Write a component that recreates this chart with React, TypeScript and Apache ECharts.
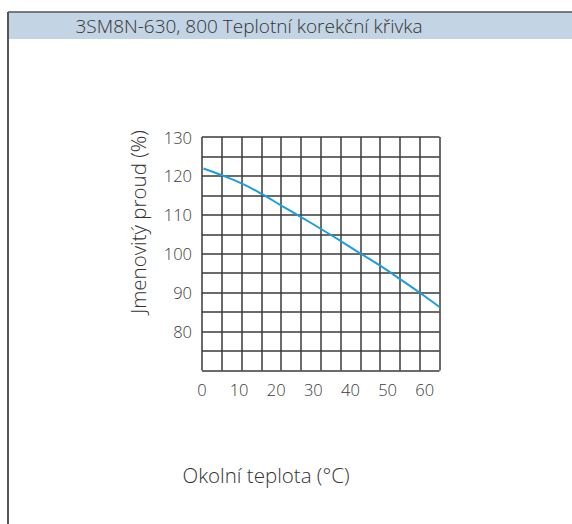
import React, { useEffect, useRef } from "react";
import * as echarts from "echarts";

const title = "3SM8N-630, 800 Teplotní korekční křivka";
const yAxisName = "Jmenovitý proud (%)";
const xAxisName = "Okolní teplota (°C)";
const temperature = [0.4, 5.5, 10.8, 16.2, 21.5, 26.9, 32.2, 37.5, 42.8, 48.2, 53.5, 58.8, 64];
const ratedCurrent = [121.9, 120.1, 118.0, 115.3, 112.3, 109.3, 106.3, 103.2, 100.0, 96.8, 93.4, 89.9, 86.3];
const yLabels = [80, 90, 100, 110, 120, 130];
const xLabels = [0, 10, 20, 30, 40, 50, 60];

const FONT = "'Open Sans', 'Noto Sans', sans-serif";

export default function App() {
  const ref = useRef<HTMLDivElement>(null);
  useEffect(() => {
    document.body.style.margin = "0";
    const chart = echarts.init(ref.current!, null, { renderer: "svg" });
    chart.setOption({
      animation: false,
      backgroundColor: "#ffffff",
      grid: { left: 202, top: 137, right: 132.5, bottom: 153.5, containLabel: false },
      xAxis: [
        {
          type: "value",
          min: 0,
          max: 64,
          interval: 10,
          axisLine: { show: false },
          axisTick: { show: false },
          splitLine: { show: false },
          axisLabel: {
            margin: 10,
            fontSize: 16.5,
            fontWeight: 300,
            color: "#3a3a3a",
            fontFamily: FONT,
            formatter: (v: number) => (xLabels.includes(v) ? String(v) : ""),
            showMaxLabel: false,
          },
        },
        {
          type: "value",
          min: 0,
          max: 12,
          interval: 1,
          position: "bottom",
          axisLine: { show: false },
          axisTick: { show: false },
          axisLabel: { show: false },
          splitLine: { show: true, lineStyle: { color: "#3a3a3a", width: 1.5 } },
        },
      ],
      yAxis: {
        type: "value",
        min: 70,
        max: 130,
        interval: 5,
        axisLine: { show: false },
        axisTick: { show: false },
        splitLine: { show: true, lineStyle: { color: "#3a3a3a", width: 1.5 } },
        axisLabel: {
          margin: 10,
          fontSize: 16.5,
          fontWeight: 300,
          color: "#3a3a3a",
          fontFamily: FONT,
          formatter: (v: number) => (yLabels.includes(v) ? String(v) : ""),
        },
      },
      series: [
        {
          type: "line",
          xAxisIndex: 0,
          data: temperature.map((t, i) => [t, ratedCurrent[i]]),
          smooth: true,
          showSymbol: false,
          lineStyle: { color: "#1a9fdc", width: 2 },
        },
      ],
      graphic: [
        { type: "rect", shape: { x: 8, y: 12, width: 564, height: 27 }, style: { fill: "#c3d4e4" }, z: -1 },
        { type: "line", shape: { x1: 8, y1: 12, x2: 572, y2: 12 }, style: { stroke: "#555", lineWidth: 1.5 } },
        { type: "line", shape: { x1: 8, y1: 12, x2: 8, y2: 524 }, style: { stroke: "#555", lineWidth: 2 } },
        {
          type: "text",
          x: 249,
          y: 26,
          style: { text: title, fontSize: 19, fontWeight: 300, fontFamily: FONT, fill: "#333", textAlign: "center", textVerticalAlign: "middle" },
        },
        {
          type: "text",
          x: 137.5,
          y: 222,
          rotation: Math.PI / 2,
          style: { text: yAxisName, fontSize: 20.5, fontWeight: 300, fontFamily: FONT, fill: "#333", textAlign: "center", textVerticalAlign: "middle" },
        },
        {
          type: "text",
          x: 266,
          y: 475,
          style: { text: xAxisName, fontSize: 20.5, fontWeight: 300, fontFamily: FONT, fill: "#333", textAlign: "center", textVerticalAlign: "middle" },
        },
      ],
    });
    return () => chart.dispose();
  }, []);
  return <div ref={ref} style={{ width: 572, height: 524 }} />;
}
